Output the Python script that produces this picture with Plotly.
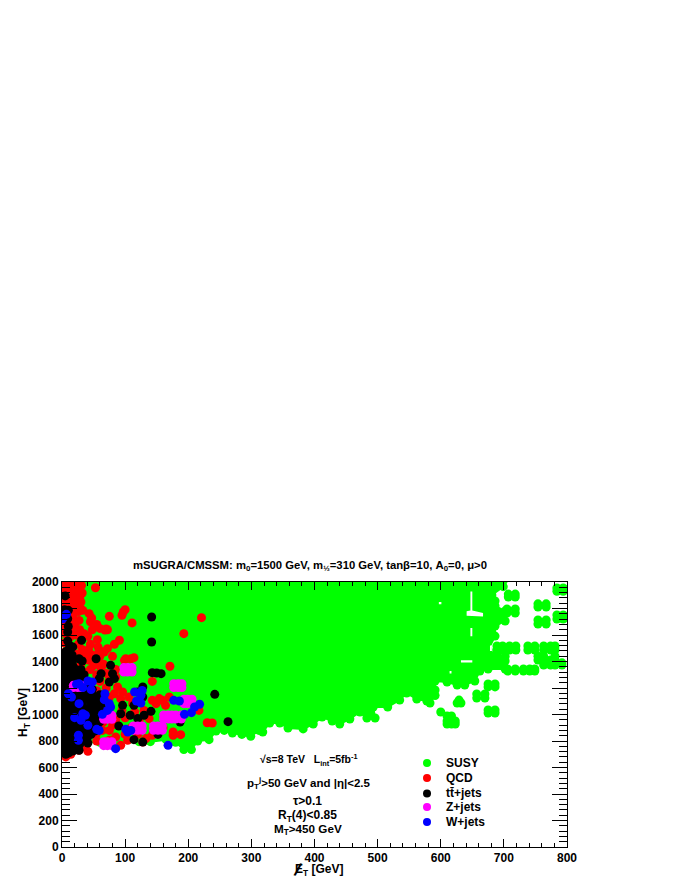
import plotly.graph_objects as go

# SUSY: outline of the solid body (reading from lower left around to the top), gaps inside it, and outlying blobs
susy_outline = [
 (3,800),(30,790),(60,790),(90,785),(122,795),(140,795),(165,810),(180,790),(193,735),(205,735),(215,800),(233,810),(244,875),(257,880),(270,860),(285,850),(299,835),
 (312,880),(318,868),(329,936),(345,936),(358,898),(382,891),(398,928),(412,981),(428,951),(440,928),(456,966),(472,1019),(483,974),(496,974),(493,1057),(516,1057),(535,1109),(546,1162),(562,1117),(578,1102),(583,1087),(591,1143),
 (591,1185),(591,1253),(610,1245),(626,1222),(638,1222),(654,1253),(662,1328),(675,1343),(702,1343),(702,1404),(702,1438),(689,1449),(675,1487),(686,1592),(686,1668),(702,1706),(702,1781),(686,1819),(686,1857),(681,1902),(699,1965),(699,2010),
 (650,2010),(600,2010),(550,2010),(500,2010),(450,2010),(400,2010),(350,2010),(300,2010),(250,2010),(200,2010),(150,2010),(100,2010),(50,2010),(3,2010),(3,1600),(3,1200),
]
susy_gap_x = [647,650,650,667,667,641,641,647,None, 647,650,650,647,None, 632,650,650,632,None, 678,681,681,678,None, 614,617,617,614,None, 597,601,601,597]
susy_gap_y = [1929,1929,1785,1766,1740,1745,1779,1785,None, 1653,1653,1590,1590,None, 1410,1410,1392,1392,None, 1520,1520,1480,1480,None, 1328,1328,1310,1310,None, 1850,1850,1833,1833]
susy_outliers = [
 (784,1930),(794,1930),(784,1955),(794,1955),(754,1835),(767,1835),(754,1811),(767,1811),(754,1713),(767,1713),(754,1683),(767,1683),(784,1751),(794,1751),(784,1721),(794,1721),
 (707,1909),(718,1909),(707,1887),(718,1887),(705,1796),(718,1796),(705,1766),(718,1766),
 (689,1517),(698,1517),(709,1517),(719,1517),(689,1487),(698,1487),(709,1487),(719,1487),
 (738,1517),(749,1517),(763,1517),(774,1517),(781,1517),(738,1487),(749,1487),(763,1487),(774,1487),(781,1487),
 (754,1440),(763,1440),(781,1440),(754,1411),(763,1411),(774,1411),(781,1411),(763,1373),(774,1373),(781,1373),(792,1373),(792,1390),
 (706,1343),(718,1343),(731,1343),(741,1343),(749,1343),(706,1328),(718,1328),(731,1328),(741,1328),(749,1328),
 (675,1230),(686,1230),(675,1208),(686,1208),(657,1155),(670,1155),(657,1124),(670,1124),
 (629,1109),(626,1087),(632,1087),(675,1034),(686,1034),(675,1011),(686,1011),(600,1019),(610,989),(617,989),(610,951),(623,951),(610,928),(617,928),(623,928),
]
qcd_points = [
 (2,1985),(9,1975),(16,1985),(24,1980),(31,1975),(3,1930),(11,1925),(20,1925),(32,1917),(53,1957),(5,1870),(14,1870),(24,1865),(28,1880),(30,1850),(3,1810),(14,1815),(24,1800),(26,1777),(33,1786),(43,1761),
 (4,1950),(12,1950),(20,1955),(27,1950),(6,1900),(15,1895),(25,1895),(8,1840),(18,1840),(28,1830),(6,1780),(18,1775),(10,1710),(3,1640),(14,1640),(28,1640),(35,1610),(12,1580),(30,1570),(15,1500),(32,1490),(42,1490),(28,1430),(42,1410),(58,1385),(45,1340),(62,1350),
 (4,1750),(17,1745),(21,1703),(27,1710),(47,1728),(45,1700),(55,1680),(60,1650),(68,1638),(70,1645),(72,1640),(3,1680),(20,1670),(48,1640),(5,1610),(22,1600),(41,1590),(56,1565),(3,1540),(26,1530),(45,1530),(57,1510),
 (75,1741),(95,1749),(100,1791),(97,1774),(111,1691),(193,1610),(221,1731),(91,1560),(83,1530),(72,1497),(59,1484),(67,1472),(80,1439),(101,1421),(109,1421),(114,1429),(99,1409),(171,1364),(143,1250),
 (4,1470),(20,1460),(38,1460),(48,1450),(60,1440),(6,1390),(30,1380),(50,1370),(66,1380),(85,1340),(3,1300),(35,1320),(55,1300),(70,1310),(85,1283),(75,1258),(60,1250),(88,1208),(96,1170),(83,1157),(93,1120),(106,1132),(112,1082),(70,1200),(55,1180),(75,1130),
 (143,1107),(154,1120),(159,1107),(170,1132),(149,1082),(164,1069),(217,1031),(230,938),(238,936),(176,868),(176,843),(188,848),(41,722),(27,730),(6,680),(1,717),(14,700),(20,740),(35,760),(55,800),(54,850),(75,880),(80,920),(85,960),(100,975),(122,956),(138,969),(133,818),(143,843),(128,792),(93,767),(104,805),(75,805),(64,880),(65,940),(60,1000),(72,1000),(95,1030),(115,1020),(130,1030),(110,900),(120,850),(145,880),(160,900),(100,850),(85,830),
]
ttbar_points = [
 (5,1895),(4,1791),(10,1786),(9,1723),(10,1665),(9,1623),(31,1560),(9,1555),(12,1522),(17,1510),(142,1736),(142,1547),(27,1421),(32,1404),(54,1421),(77,1371),(143,1316),(150,1313),(157,1308),(242,1152),(263,946),
 (128,1208),(120,1170),(128,1132),(114,1069),(80,1308),(83,1271),(75,1245),(62,1308),(59,1271),(96,1069),(93,1006),(108,994),(90,913),(130,994),(141,1024),(120,969),(114,810),(128,792),(152,850),(187,943),(41,785),(27,730),
 (5,1470),(12,1470),(4,1430),(14,1430),(5,1390),(14,1385),(3,1340),(12,1345),(20,1345),(30,1340),(5,1300),(14,1300),(23,1295),(35,1300),(4,1250),(13,1255),(21,1250),(32,1250),(44,1240),(4,1200),(12,1205),(22,1195),(36,1200),(48,1190),(5,1150),(15,1155),(25,1150),(38,1150),(50,1140),(60,1150),
 (3,1100),(12,1105),(22,1100),(33,1100),(45,1095),(58,1100),(5,1050),(15,1050),(27,1050),(40,1045),(52,1050),(63,1045),(4,1000),(14,1000),(25,1000),(37,1000),(50,995),(60,1000),(5,950),(14,950),(24,950),(35,945),(48,950),(60,945),
 (4,900),(13,900),(24,900),(35,895),(47,900),(57,890),(5,850),(14,850),(23,850),(34,850),(46,850),(4,800),(13,800),(22,800),(32,800),(5,750),(13,750),(22,760),(6,700),(11,710),
 (8,1480),(3,1450),(10,1450),(16,1450),(8,1410),(17,1410),(3,1370),(10,1370),(17,1370),(8,1320),(17,1320),(27,1320),(3,1275),(9,1275),(18,1275),(28,1275),(8,1225),(17,1225),(27,1225),(38,1225),
 (3,1175),(9,1175),(18,1175),(30,1175),(42,1175),(8,1125),(18,1125),(30,1125),(44,1125),(56,1125),(3,1075),(9,1075),(19,1075),(32,1075),(50,1075),(62,1075),(8,1025),(20,1025),(33,1025),(46,1025),(58,1025),
 (3,975),(9,975),(19,975),(31,975),(44,975),(56,975),(8,925),(18,925),(30,925),(42,925),(52,925),(3,875),(9,875),(19,875),(30,875),(41,875),(52,875),(8,825),(18,825),(28,825),(40,825),(3,775),(9,775),(18,775),(28,775),(4,725),(10,725),(18,725),
]
zjets_x = [18,25,31,18,25,31, 98,104,111,98,104,111, 177,184,190,177,184,190, 193,199,206,193,199,206, 161,168,174,180,189,161,168,174,180,189, 66,72,79,66,72,79, 113,120,127,113,120,127, 145,152,159,145,152,159, 66,72,79,66,72,79]
zjets_y = [1220,1220,1220,1203,1203,1203, 1354,1354,1354,1321,1321,1321, 1233,1233,1233,1203,1203,1203, 1115,1115,1115,1082,1082,1082, 996,996,996,996,996,966,966,966,966,966, 994,994,994,964,964,964, 913,913,913,881,881,881, 913,913,913,881,881,881, 795,795,795,765,765,765]
wjets_points = [
 (1,1723),(7,1756),(10,1157),(15,1132),(23,1228),(27,1233),(33,1203),(41,1253),(48,1245),(46,1188),(27,1082),(20,976),(33,1006),(37,994),(30,956),(41,918),(26,843),(26,805),(55,888),(59,880),
 (68,1157),(67,1112),(75,1082),(77,1057),(72,1031),(64,1001),(85,742),(168,767),(115,1170),(127,1182),(125,1145),(118,1102),(125,1087),(101,888),(104,868),(109,880),(177,1107),(186,1102),(194,1001),(205,1014),(210,1057),(218,1077),
]
series_names = ["SUSY", "QCD", "t\u0074\u0304+jets", "Z+jets", "W+jets"]
x_ticks = [0,100,200,300,400,500,600,700,800]
y_ticks = [0,200,400,600,800,1000,1200,1400,1600,1800,2000]

GREEN, RED, BLACK, MAGENTA, BLUE = "#00ff00", "#ff0000", "#000000", "#ff00ff", "#0000ff"
series_colors = [GREEN, RED, BLACK, MAGENTA, BLUE]
SIZE = 9
FONT = "Liberation Sans"

def xs(p): return [a for a, _ in p]
def ys(p): return [b for _, b in p]

fig = go.Figure()
fig.add_trace(go.Scatter(x=xs(susy_outline)+[susy_outline[0][0]], y=ys(susy_outline)+[susy_outline[0][1]], mode="lines+markers", fill="toself", fillcolor=GREEN,
    line=dict(color=GREEN, width=2), marker=dict(color=GREEN, size=SIZE), hoverinfo="skip"))
fig.add_trace(go.Scatter(x=susy_gap_x, y=susy_gap_y, mode="lines", fill="toself", fillcolor="white", line=dict(color="white", width=0), hoverinfo="skip"))
fig.add_trace(go.Scatter(x=xs(susy_outliers), y=ys(susy_outliers), mode="markers", name=series_names[0], marker=dict(color=GREEN, size=SIZE)))
fig.add_trace(go.Scatter(x=xs(qcd_points), y=ys(qcd_points), mode="markers", name=series_names[1], marker=dict(color=RED, size=SIZE)))
fig.add_trace(go.Scatter(x=xs(ttbar_points), y=ys(ttbar_points), mode="markers", name=series_names[2], marker=dict(color=BLACK, size=SIZE)))
fig.add_trace(go.Scatter(x=zjets_x, y=zjets_y, mode="markers", name=series_names[3], marker=dict(color=MAGENTA, size=SIZE)))
fig.add_trace(go.Scatter(x=xs(wjets_points), y=ys(wjets_points), mode="markers", name=series_names[4], marker=dict(color=BLUE, size=SIZE)))

def note(text, x, y, size=11, anchor="center", **kw):
    fig.add_annotation(text=text, x=x, y=y, xref="paper", yref="paper", showarrow=False,
                       font=dict(family=FONT, size=size, color="black", weight="bold"), xanchor=anchor, yanchor="middle", **kw)

note("mSUGRA/CMSSM: m<sub>0</sub>=1500 GeV, m<sub>½</sub>=310 GeV, tanβ=10, A<sub>0</sub>=0, μ>0", 0.4911, 1.06, 11.3)
note("√s=8 TeV   L<sub>int</sub>=5fb<sup>-1</sup>", 0.489, 0.328, 10.5)
note("p<sub>T</sub><sup>j</sup>>50 GeV and |η|<2.5", 0.489, 0.2415, 11.5)
note("τ>0.1", 0.487, 0.173, 12)
note("R<sub>T</sub>(4)<0.85", 0.487, 0.117, 12)
note("M<sub>T</sub>>450 GeV", 0.487, 0.066, 11.7)
note("H<sub>T</sub> [GeV]", -0.075, 0.506, 12, textangle=-90)
note("E<sub>T</sub> [GeV]", 0.509, -0.088, 12)
note("/", 0.4673, -0.088, 18, textangle=18)

legend_y = [0.317, 0.2604, 0.2019, 0.1509, 0.0943]
for name, color, ly in zip(series_names, series_colors, legend_y):
    fig.add_shape(type="circle", xref="paper", yref="paper", xsizemode="pixel", ysizemode="pixel",
                  xanchor=0.7228, yanchor=ly, x0=-4, x1=4, y0=-4, y1=4, fillcolor=color, line=dict(width=0))
    note(name, 0.757, ly, 12, anchor="left")

axis_common = dict(showgrid=False, zeroline=False, showline=True, linecolor="black", linewidth=1,
                   mirror="allticks", ticks="inside", tickcolor="black", tickwidth=1,
                   tickfont=dict(family=FONT, size=12, color="black", weight="bold"))
fig.update_xaxes(range=[0,800], tickvals=x_ticks, ticklen=8,
                 minor=dict(dtick=20, ticks="inside", ticklen=4, tickcolor="black", showgrid=False), **axis_common)
fig.update_yaxes(range=[0,2000], tickvals=y_ticks, ticklen=15,
                 minor=dict(dtick=40, ticks="inside", ticklen=8, tickcolor="black", showgrid=False), **axis_common)
fig.update_layout(width=680, height=880, autosize=False, margin=dict(l=54, r=121, t=574, b=41),
                  paper_bgcolor="white", plot_bgcolor="white", showlegend=False)
fig.write_html("out.html")
